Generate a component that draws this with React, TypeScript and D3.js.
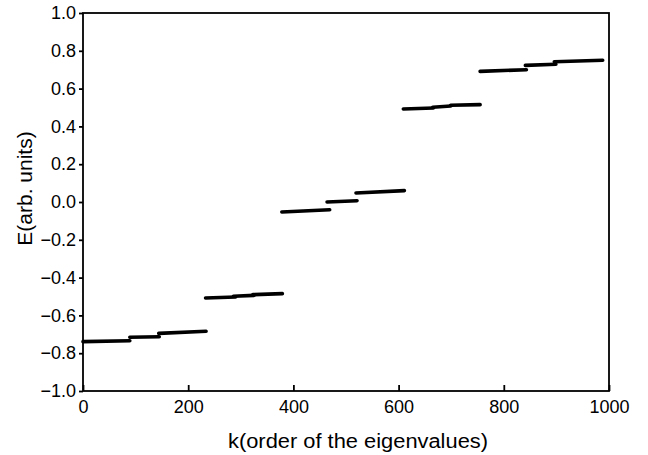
import { useEffect, useRef } from 'react';
import * as d3 from 'd3';

// plateaus of sorted eigenvalues: start/end index and energy at each end
const kStart = [0, 89, 144, 233, 286, 323, 378, 464, 519, 609, 665, 699, 755, 841, 896];
const kEnd = [89, 145, 234, 290, 325, 379, 469, 521, 611, 666, 699, 755, 843, 899, 988];
const eStart = [-0.739, -0.716, -0.695, -0.508, -0.499, -0.49, -0.053, 0.0, 0.048, 0.492, 0.501, 0.512, 0.691, 0.723, 0.742];
const eEnd = [-0.734, -0.713, -0.684, -0.503, -0.494, -0.485, -0.041, 0.007, 0.06, 0.497, 0.508, 0.515, 0.7, 0.729, 0.75];

const xTicks = [0, 200, 400, 600, 800, 1000];
const yTicks = [-1.0, -0.8, -0.6, -0.4, -0.2, 0.0, 0.2, 0.4, 0.6, 0.8, 1.0];

const App = () => {
  const svgRef = useRef<SVGSVGElement>(null);

  useEffect(() => {
    const margin = { top: 13, right: 39, bottom: 64, left: 83 };
    const W = 648;
    const H = 455;
    const width = W - margin.left - margin.right;
    const height = H - margin.top - margin.bottom;

    const svgEl = d3.select(svgRef.current);
    svgEl.selectAll('*').remove();
    svgEl.attr('width', W).attr('height', H);

    const svg = svgEl.append('g').attr('transform', `translate(${margin.left},${margin.top})`);

    const x = d3.scaleLinear().domain([0, 1000]).range([0, width]);
    const y = d3.scaleLinear().domain([-1, 1]).range([height, 0]);

    const font = 'Liberation Sans, Arial, sans-serif';

    // eje x: marcas hacia dentro
    const gx = svg.append('g')
      .attr('transform', `translate(0,${height})`)
      .call(d3.axisBottom(x).tickValues(xTicks).tickSize(-6).tickPadding(9).tickFormat(d3.format('d')));
    gx.select('.domain').remove();
    gx.selectAll('line').attr('stroke', '#000').attr('stroke-width', 1.8);
    gx.selectAll('text').style('font-family', font).style('font-size', '18px').attr('fill', '#000');

    // eje y: marcas hacia fuera
    const gy = svg.append('g')
      .call(d3.axisLeft(y).tickValues(yTicks).tickSize(4).tickPadding(3).tickFormat(d3.format('.1f')));
    gy.select('.domain').remove();
    gy.selectAll('line').attr('stroke', '#000').attr('stroke-width', 1.8);
    gy.selectAll('text').style('font-family', font).style('font-size', '18px').attr('fill', '#000');

    // marco
    svg.append('rect')
      .attr('width', width)
      .attr('height', height)
      .attr('fill', 'none')
      .attr('stroke', '#000')
      .attr('stroke-width', 1.8);

    // tramos
    svg.append('g')
      .selectAll('line')
      .data(kStart.map((k, i) => ({ k0: k, k1: kEnd[i], e0: eStart[i], e1: eEnd[i] })))
      .join('line')
      .attr('x1', d => x(d.k0))
      .attr('x2', d => x(d.k1))
      .attr('y1', d => y(d.e0))
      .attr('y2', d => y(d.e1))
      .attr('stroke', '#000')
      .attr('stroke-width', 3.6)
      .attr('stroke-linecap', 'round');

    // títulos
    svg.append('text')
      .attr('x', 405 - margin.left - 47)
      .attr('y', 448 - margin.top)
      .attr('text-anchor', 'middle')
      .style('font-family', font)
      .style('font-size', '20px')
      .attr('textLength', 260)
      .attr('lengthAdjust', 'spacingAndGlyphs')
      .text('k(order of the eigenvalues)');

    svg.append('text')
      .attr('transform', `translate(${32 - margin.left},${188.5 - margin.top}) rotate(-90)`)
      .attr('text-anchor', 'middle')
      .style('font-family', font)
      .style('font-size', '21px')
      .text('E(arb. units)');
  }, []);

  return <svg ref={svgRef} style={{ position: 'absolute', left: 0, top: 0 }}></svg>;
};

export default App;
